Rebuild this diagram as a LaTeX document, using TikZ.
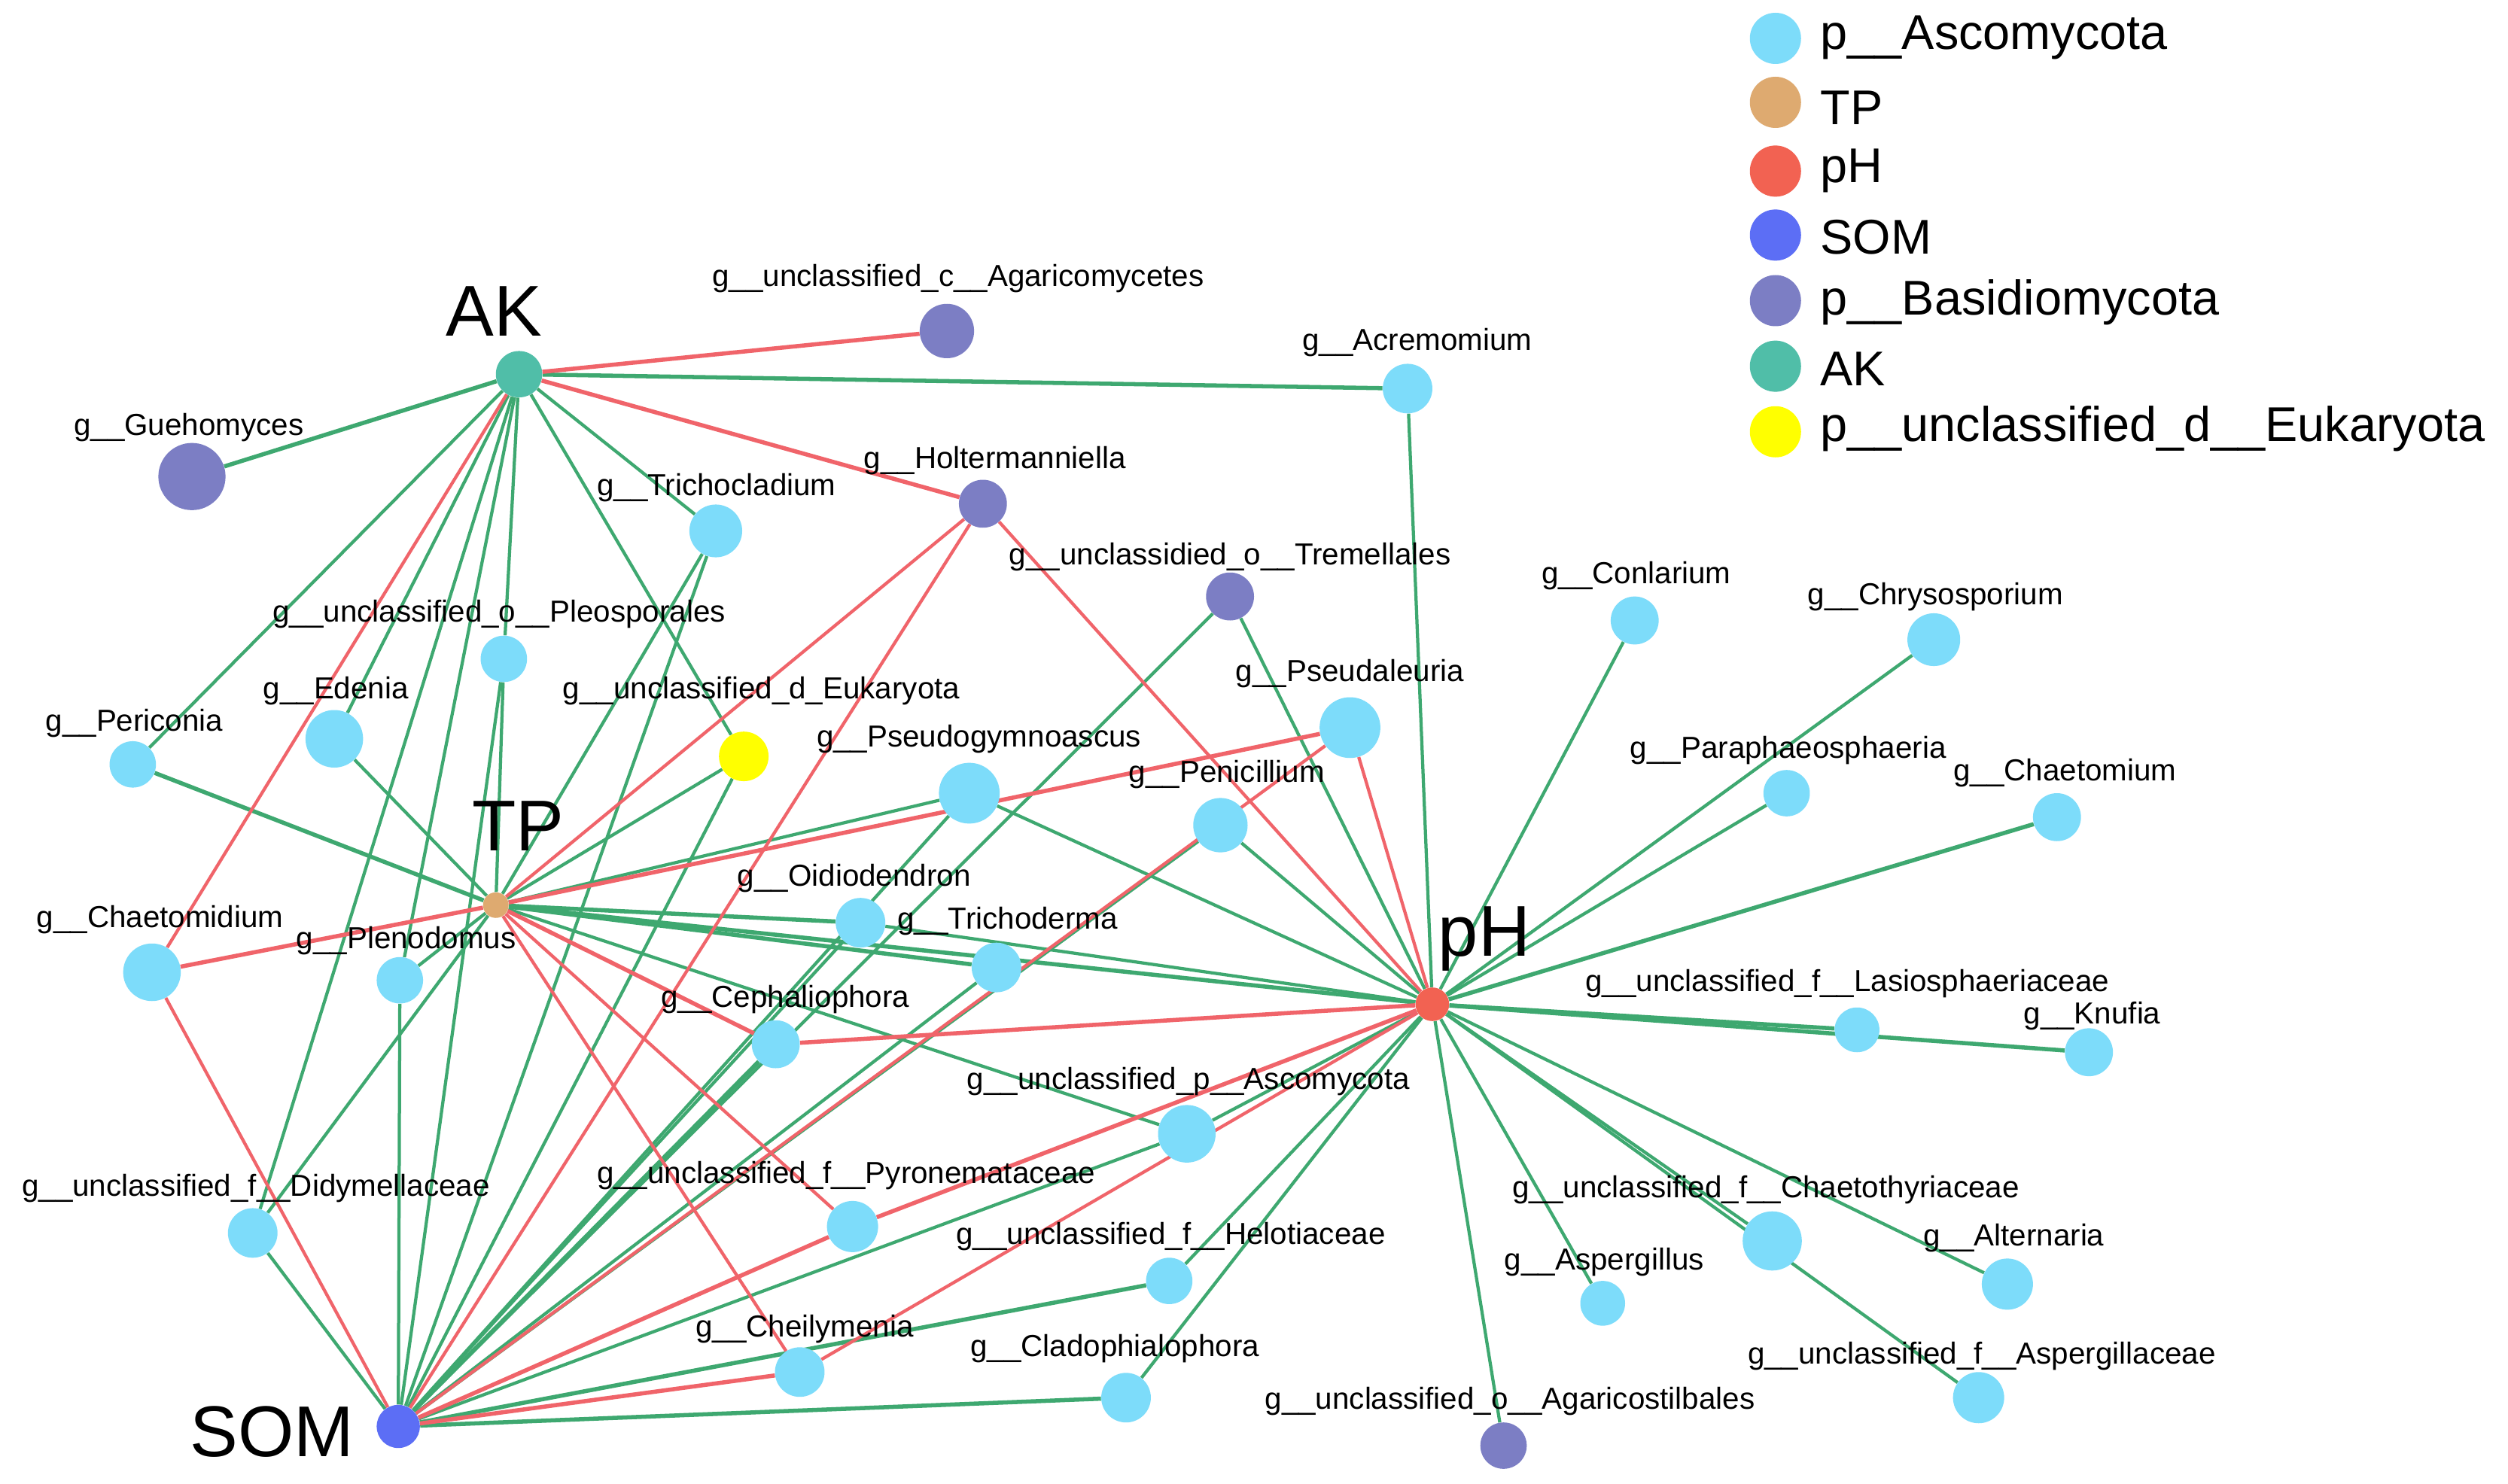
\documentclass[tikz,border=0pt]{standalone}
\usepackage{fontspec}
\setmainfont{Liberation Sans}
\usetikzlibrary{backgrounds}
\pgfdeclarelayer{bg}
\pgfsetlayers{bg,background,main}
\definecolor{cAsc}{RGB}{125,220,250}
\definecolor{cTP}{RGB}{222,170,112}
\definecolor{cpH}{RGB}{242,98,82}
\definecolor{cSOM}{RGB}{92,110,245}
\definecolor{cBas}{RGB}{124,126,196}
\definecolor{cAK}{RGB}{80,190,168}
\definecolor{cEuk}{RGB}{255,255,0}
\definecolor{cGreen}{RGB}{62,168,112}
\definecolor{cRed}{RGB}{240,100,106}
\begin{document}
\begin{tikzpicture}[x=1pt,y=-1pt,
  vtx/.style={circle,inner sep=0pt,draw=none,minimum size=#1},
  asc/.style={vtx=#1,fill=cAsc},
  bas/.style={vtx=#1,fill=cBas},
  gE/.style={draw=cGreen,line width=2pt},
  rE/.style={draw=cRed,line width=2pt},
  thick edge/.style={line width=2.6pt},
  lbl/.style={font=\fontsize{19}{19}\selectfont,anchor=base,inner sep=0pt},
  big/.style={font=\fontsize{45}{45}\selectfont,anchor=base,inner sep=0pt},
  leg/.style={font=\fontsize{30.5}{30.5}\selectfont,anchor=base west,inner sep=0pt}]
\useasboundingbox (0,0) rectangle (1568,928);
\begin{pgfonlayer}{bg}
\fill[white] (0,0) rectangle (1568,928);
\end{pgfonlayer}
% hubs
\node[vtx=29,fill=cAK] (AK) at (324.5,234) {};
\node[vtx=16,fill=cTP] (TP) at (310,566) {};
\node[vtx=21,fill=cpH] (pH) at (895.5,628) {};
\node[vtx=27,fill=cSOM] (SOM) at (249,892) {};
% genera
\node[bas=34] (agar) at (592,207) {};
\node[asc=31] (acre) at (880,243) {};
\node[bas=42] (gueh) at (120,298) {};
\node[bas=30] (holt) at (614.5,315) {};
\node[asc=33] (tricl) at (447.5,332) {};
\node[asc=29] (pleo) at (315,412) {};
\node[bas=30] (trem) at (769,373) {};
\node[asc=30] (conl) at (1022,388) {};
\node[asc=33] (chrys) at (1209,400) {};
\node[asc=38] (pseal) at (844,455) {};
\node[asc=36] (eden) at (209,462) {};
\node[asc=29] (peri) at (83,478) {};
\node[vtx=31,fill=cEuk] (euk) at (465,473) {};
\node[asc=38] (pseg) at (606,496) {};
\node[asc=29] (para) at (1117,496) {};
\node[asc=34] (peni) at (763,516) {};
\node[asc=30] (chaem) at (1286,511) {};
\node[asc=31] (oidi) at (538,577) {};
\node[asc=31] (trid) at (623,605) {};
\node[asc=36] (chaed) at (95,608) {};
\node[asc=29] (plen) at (250,613) {};
\node[asc=30] (ceph) at (485,653) {};
\node[asc=28] (lasi) at (1161,644) {};
\node[asc=30] (knuf) at (1306,658) {};
\node[asc=36] (uasc) at (742,709) {};
\node[asc=31] (didy) at (158,771) {};
\node[asc=32] (pyro) at (533,767) {};
\node[asc=29] (helo) at (731,801) {};
\node[asc=37] (ctry) at (1108,776) {};
\node[asc=32] (alt) at (1255,803) {};
\node[asc=28] (asp) at (1002,815) {};
\node[asc=31] (chei) at (500,858) {};
\node[asc=31] (clad) at (704,874) {};
\node[asc=32] (aspc) at (1237,874) {};
\node[bas=29] (agst) at (940,904) {};
% edges
\begin{pgfonlayer}{background}
\foreach \a/\b in {AK/tricl,AK/euk,AK/pleo,AK/peri,AK/eden,AK/didy,AK/plen,
  TP/eden,TP/pleo,TP/tricl,TP/euk,TP/pseg,TP/uasc,TP/didy,TP/plen,
  pH/acre,pH/trem,pH/peni,pH/pseg,pH/oidi,pH/uasc,pH/helo,pH/clad,pH/agst,pH/asp,pH/ctry,pH/aspc,pH/alt,pH/chrys,pH/conl,pH/para,
  SOM/didy,SOM/plen,SOM/pleo,SOM/tricl,SOM/euk,SOM/trem,SOM/pseg,SOM/peni,SOM/oidi,SOM/trid,SOM/uasc}
  \draw[gE] (\a) -- (\b);
\foreach \a/\b in {AK/acre,AK/gueh,TP/peri,TP/oidi,TP/trid,TP/pH,
  pH/lasi,pH/knuf,pH/chaem,SOM/ceph,SOM/helo,SOM/clad}
  \draw[gE,thick edge] (\a) -- (\b);
\foreach \a/\b in {AK/chaed,TP/holt,TP/pyro,TP/chei,
  pH/holt,pH/pseal,pH/chei,SOM/chaed,SOM/holt,SOM/pseal}
  \draw[rE] (\a) -- (\b);
\foreach \a/\b in {AK/agar,AK/holt,TP/pseal,TP/ceph,TP/chaed,
  pH/ceph,pH/pyro,SOM/pyro,SOM/chei}
  \draw[rE,thick edge] (\a) -- (\b);
\end{pgfonlayer}
% labels
\node[lbl] (l-agar) at (599,179) {g\_\_unclassified\_c\_\_Agaricomycetes};
\node[lbl] (l-acre) at (886,219) {g\_\_Acremomium};
\node[lbl] (l-gueh) at (118,272) {g\_\_Guehomyces};
\node[lbl] (l-holt) at (622,293) {g\_\_Holtermanniella};
\node[lbl] (l-tricl) at (448,310) {g\_\_Trichocladium};
\node[lbl] (l-pleo) at (312,389) {g\_\_unclassified\_o\_\_Pleosporales};
\node[lbl] (l-trem) at (769,353) {g\_\_unclassidied\_o\_\_Tremellales};
\node[lbl] (l-conl) at (1023,365) {g\_\_Conlarium};
\node[lbl] (l-chrys) at (1210,378) {g\_\_Chrysosporium};
\node[lbl] (l-pseal) at (844,426) {g\_\_Pseudaleuria};
\node[lbl] (l-eden) at (210,437) {g\_\_Edenia};
\node[lbl] (l-peri) at (84,457) {g\_\_Periconia};
\node[lbl] (l-euk) at (476,437) {g\_\_unclassified\_d\_Eukaryota};
\node[lbl] (l-pseg) at (612,467) {g\_\_Pseudogymnoascus};
\node[lbl] (l-para) at (1118,474) {g\_\_Paraphaeosphaeria};
\node[lbl] (l-peni) at (767,489) {g\_\_Penicillium};
\node[lbl] (l-chaem) at (1291,488) {g\_\_Chaetomium};
\node[lbl] (l-oidi) at (534,554) {g\_\_Oidiodendron};
\node[lbl] (l-trid) at (630,581) {g\_\_Trichoderma};
\node[lbl] (l-chaed) at (100,580) {g\_\_Chaetomidium};
\node[lbl] (l-plen) at (254,593) {g\_\_Plenodomus};
\node[lbl] (l-ceph) at (491,630) {g\_\_Cephaliophora};
\node[lbl] (l-lasi) at (1155,620) {g\_\_unclassified\_f\_\_Lasiosphaeriaceae};
\node[lbl] (l-knuf) at (1308,640) {g\_\_Knufia};
\node[lbl] (l-uasc) at (743,681) {g\_\_unclassified\_p\_\_Ascomycota};
\node[lbl] (l-didy) at (160,748) {g\_\_unclassified\_f\_\_Didymellaceae};
\node[lbl] (l-pyro) at (529,740) {g\_\_unclassified\_f\_\_Pyronemataceae};
\node[lbl] (l-helo) at (732,778) {g\_\_unclassified\_f\_\_Helotiaceae};
\node[lbl] (l-ctry) at (1104,749) {g\_\_unclassified\_f\_\_Chaetothyriaceae};
\node[lbl] (l-alt) at (1259,779) {g\_\_Alternaria};
\node[lbl] (l-asp) at (1003,794) {g\_\_Aspergillus};
\node[lbl] (l-chei) at (503,836) {g\_\_Cheilymenia};
\node[lbl] (l-clad) at (697,848) {g\_\_Cladophialophora};
\node[lbl] (l-aspc) at (1239,853) {g\_\_unclassified\_f\_\_Aspergillaceae};
\node[lbl] (l-agst) at (944,881) {g\_\_unclassified\_o\_\_Agaricostilbales};
% hub labels
\node[big] (l-AK) at (309,210) {AK};
\node[big] (l-TP) at (324,532) {TP};
\node[big] (l-pH) at (928,598) {pH};
\node[big] (l-SOM) at (170,911) {SOM};
% legend
\node[vtx=32,fill=cAsc] (k1) at (1110,24) {};
\node[vtx=32,fill=cTP] (k2) at (1110,64) {};
\node[vtx=32,fill=cpH] (k3) at (1110,107) {};
\node[vtx=32,fill=cSOM] (k4) at (1110,147) {};
\node[vtx=32,fill=cBas] (k5) at (1110,188) {};
\node[vtx=32,fill=cAK] (k6) at (1110,229) {};
\node[vtx=32,fill=cEuk] (k7) at (1110,270) {};
\node[leg] (t1) at (1138,31) {p\_\_Ascomycota};
\node[leg] (t2) at (1138,78) {TP};
\node[leg] (t3) at (1138,114) {pH};
\node[leg] (t4) at (1138,159) {SOM};
\node[leg] (t5) at (1138,197) {p\_\_Basidiomycota};
\node[leg] (t6) at (1138,241) {AK};
\node[leg] (t7) at (1138,276) {p\_\_unclassified\_d\_\_Eukaryota};
\end{tikzpicture}
\end{document}
